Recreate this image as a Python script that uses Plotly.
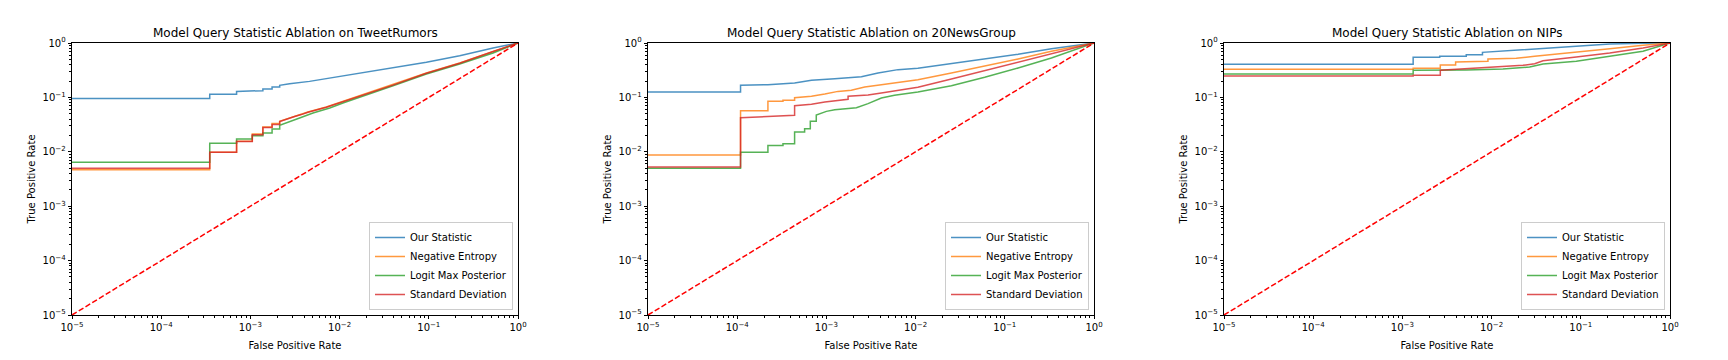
import plotly.graph_objects as go

# ---- data ----
panel_titles = [
    "Model Query Statistic Ablation on TweetRumors",
    "Model Query Statistic Ablation on 20NewsGroup",
    "Model Query Statistic Ablation on NIPs",
]
series_names = ["Our Statistic", "Negative Entropy", "Logit Max Posterior", "Standard Deviation"]
series_colors = ["#1f77b4", "#ff7f0e", "#2ca02c", "#d62728"]

tick_vals = [1e-5, 1e-4, 1e-3, 1e-2, 1e-1, 1e0]
tick_text = ["10<sup>−5</sup>", "10<sup>−4</sup>", "10<sup>−3</sup>",
             "10<sup>−2</sup>", "10<sup>−1</sup>", "10<sup>0</sup>"]

# TweetRumors
tr_ours_fpr = [1e-5, 3.5e-4, 3.5e-4, 7e-4, 7e-4, 1.0e-3, 1.0e-3, 1.38e-3, 1.38e-3, 1.75e-3, 1.75e-3,
               2.13e-3, 2.13e-3, 2.75e-3, 4.6e-3, 7.1e-3, 1.09e-2, 1.68e-2, 3.97e-2, 9.4e-2, 0.222, 0.525, 1.0]
tr_ours_tpr = [0.095, 0.095, 0.114, 0.114, 0.129, 0.129, 0.133, 0.133, 0.143, 0.143, 0.155,
               0.155, 0.167, 0.179, 0.197, 0.221, 0.251, 0.281, 0.347, 0.441, 0.585, 0.81, 1.0]
tr_ent_fpr = [1e-5, 3.5e-4, 3.5e-4, 7e-4, 7e-4, 1.05e-3, 1.05e-3, 1.38e-3, 1.38e-3, 1.75e-3, 1.75e-3,
              2.13e-3, 2.13e-3, 2.53e-3, 3.13e-3, 3.72e-3, 4.42e-3, 7.1e-3, 1.09e-2, 1.68e-2,
              3.97e-2, 9.4e-2, 0.222, 0.525, 1.0]
tr_ent_tpr = [0.0047, 0.0047, 0.0098, 0.0098, 0.0156, 0.0156, 0.0212, 0.0212, 0.0285, 0.0285, 0.0330,
              0.0330, 0.0365, 0.0401, 0.0449, 0.0489, 0.054, 0.0667, 0.0847, 0.109,
              0.171, 0.281, 0.429, 0.703, 1.0]
tr_lmp_fpr = [1e-5, 3.5e-4, 3.5e-4, 7e-4, 7e-4, 1.05e-3, 1.05e-3, 1.38e-3, 1.38e-3, 1.75e-3, 1.75e-3,
              2.13e-3, 2.13e-3, 2.75e-3, 3.56e-3, 5.03e-3, 7.75e-3, 1.09e-2, 1.68e-2, 3.97e-2,
              9.4e-2, 0.222, 0.525, 1.0]
tr_lmp_tpr = [0.0064, 0.0064, 0.0143, 0.0143, 0.0172, 0.0172, 0.0198, 0.0198, 0.0222, 0.0222, 0.0262,
              0.0262, 0.0307, 0.0363, 0.0418, 0.0516, 0.0638, 0.0789, 0.1017, 0.164,
              0.269, 0.411, 0.655, 1.0]
tr_std_fpr = tr_ent_fpr
tr_std_tpr = [0.00497, 0.00497, 0.0098, 0.0098, 0.0155, 0.0155, 0.0205, 0.0205, 0.0280, 0.0280, 0.0318,
              0.0318, 0.036, 0.040, 0.0445, 0.0483, 0.0535, 0.066, 0.083, 0.107,
              0.168, 0.277, 0.425, 0.70, 1.0]

# 20NewsGroup
ng_ours_fpr = [1e-5, 1.09e-4, 1.09e-4, 2.21e-4, 4.4e-4, 5.7e-4, 6.8e-4, 1.24e-3, 2.47e-3, 3.79e-3,
               6.35e-3, 1.06e-2, 2.52e-2, 5.95e-2, 0.141, 0.333, 1.0]
ng_ours_tpr = [0.126, 0.126, 0.167, 0.171, 0.184, 0.197, 0.206, 0.221, 0.240, 0.281,
               0.324, 0.342, 0.417, 0.508, 0.619, 0.787, 1.0]
ng_ent_fpr = [1e-5, 1.09e-4, 1.09e-4, 2.21e-4, 2.21e-4, 3.26e-4, 3.26e-4, 4.4e-4, 4.4e-4, 6.8e-4,
              9.6e-4, 1.35e-3, 1.9e-3, 2.69e-3, 4.13e-3, 6.9e-3, 1.06e-2, 2.52e-2, 5.95e-2,
              0.141, 0.333, 1.0]
ng_ent_tpr = [0.0087, 0.0087, 0.057, 0.057, 0.0847, 0.0847, 0.0883, 0.0883, 0.099, 0.1047,
              0.1155, 0.129, 0.135, 0.155, 0.171, 0.192, 0.212, 0.281, 0.373,
              0.508, 0.703, 1.0]
ng_lmp_fpr = [1e-5, 1.09e-4, 1.09e-4, 2.21e-4, 2.21e-4, 3.26e-4, 3.26e-4, 4.4e-4, 4.4e-4, 5.7e-4,
              5.7e-4, 6.6e-4, 6.6e-4, 7.7e-4, 7.7e-4, 1.0e-3, 1.24e-3, 2.17e-3, 2.93e-3, 4.13e-3,
              5.8e-3, 1.06e-2, 2.52e-2, 5.95e-2, 0.141, 0.333, 1.0]
ng_lmp_tpr = [0.00497, 0.00497, 0.0098, 0.0098, 0.013, 0.013, 0.0141, 0.0141, 0.0231, 0.0231,
              0.0266, 0.0266, 0.0363, 0.0363, 0.0475, 0.0554, 0.0595, 0.0648, 0.0767, 0.0975,
              0.109, 0.126, 0.164, 0.234, 0.347, 0.53, 1.0]
ng_std_fpr = [1e-5, 1.09e-4, 1.09e-4, 2.21e-4, 3.26e-4, 4.4e-4, 4.4e-4, 6.8e-4, 9.6e-4, 1.3e-3,
              1.75e-3, 1.75e-3, 2.93e-3, 4.13e-3, 6.9e-3, 1.06e-2, 2.52e-2, 5.95e-2, 0.141, 0.333, 1.0]
ng_std_tpr = [0.00526, 0.00526, 0.0424, 0.0449, 0.0468, 0.0468, 0.0705, 0.0746, 0.0823, 0.087,
              0.092, 0.1047, 0.111, 0.12, 0.139, 0.153, 0.218, 0.31, 0.448, 0.628, 1.0]

# NIPs
ni_ours_fpr = [1e-5, 1.32e-3, 1.32e-3, 2.62e-3, 2.62e-3, 5.2e-3, 5.2e-3, 7.9e-3, 7.9e-3, 1.23e-2,
               1.46e-2, 2.45e-2, 5.8e-2, 8.9e-2, 0.137, 0.211, 0.498, 1.0]
ni_ours_tpr = [0.405, 0.405, 0.545, 0.545, 0.569, 0.569, 0.61, 0.61, 0.673, 0.703,
               0.733, 0.765, 0.832, 0.868, 0.919, 0.958, 0.986, 1.0]
ni_ent_fpr = [1e-5, 1.32e-3, 1.32e-3, 2.66e-3, 2.66e-3, 3.95e-3, 3.95e-3, 6.7e-3, 9.1e-3, 9.1e-3,
              1.89e-2, 3.04e-2, 5.8e-2, 8.9e-2, 0.211, 0.498, 1.0]
ni_ent_tpr = [0.328, 0.328, 0.342, 0.342, 0.394, 0.394, 0.448, 0.46, 0.46, 0.508,
              0.523, 0.569, 0.628, 0.683, 0.787, 0.906, 1.0]
ni_lmp_fpr = [1e-5, 1.32e-3, 1.32e-3, 5.2e-3, 1.34e-2, 2.67e-2, 3.77e-2, 8.9e-2, 0.211, 0.498, 1.0]
ni_lmp_tpr = [0.269, 0.269, 0.315, 0.319, 0.333, 0.362, 0.411, 0.46, 0.569, 0.703, 1.0]
ni_std_fpr = [1e-5, 1.32e-3, 1.32e-3, 2.66e-3, 2.66e-3, 1.04e-2, 2.25e-2, 3.04e-2, 3.77e-2, 8.9e-2,
              0.211, 0.498, 1.0]
ni_std_tpr = [0.247, 0.247, 0.255, 0.255, 0.315, 0.357, 0.389, 0.417, 0.473, 0.553,
              0.655, 0.809, 1.0]

chance_line = [1e-5, 1.0]

panels = [
    [(tr_ours_fpr, tr_ours_tpr), (tr_ent_fpr, tr_ent_tpr), (tr_lmp_fpr, tr_lmp_tpr), (tr_std_fpr, tr_std_tpr)],
    [(ng_ours_fpr, ng_ours_tpr), (ng_ent_fpr, ng_ent_tpr), (ng_lmp_fpr, ng_lmp_tpr), (ng_std_fpr, ng_std_tpr)],
    [(ni_ours_fpr, ni_ours_tpr), (ni_ent_fpr, ni_ent_tpr), (ni_lmp_fpr, ni_lmp_tpr), (ni_std_fpr, ni_std_tpr)],
]

# ---- layout geometry (pixels of the 1728x360 page) ----
W, H = 1728, 360
x_left = [72, 648, 1224]
plot_w = 446
y_top, y_bot = 43, 315
font = "DejaVu Sans"

minor_vals = [m * 10 ** e for e in range(-5, 0) for m in range(2, 10)]

fig = go.Figure()

for p, curves in enumerate(panels):
    sfx = "" if p == 0 else str(p + 1)
    for (fpr, tpr), name, color in zip(curves, series_names, series_colors):
        fig.add_trace(go.Scatter(
            x=fpr, y=tpr, mode="lines", name=name,
            line=dict(color=color, width=1.5), opacity=0.8,
            xaxis="x" + sfx, yaxis="y" + sfx, legend="legend" + sfx,
        ))
    fig.add_trace(go.Scatter(
        x=chance_line, y=chance_line, mode="lines", showlegend=False,
        line=dict(color="#ff0000", width=1.5, dash="5.5px,2.4px"),
        xaxis="x" + sfx, yaxis="y" + sfx,
    ))

    axis_common = dict(
        type="log", range=[-5, 0], tickmode="array", tickvals=tick_vals, ticktext=tick_text,
        ticks="outside", ticklen=3.5, tickwidth=0.8, tickcolor="black",
        showline=True, linecolor="black", linewidth=0.8, mirror=True,
        showgrid=False, zeroline=False, automargin=False,
        tickfont=dict(family=font, size=10, color="black"),
        minor=dict(tickmode="array", tickvals=minor_vals, ticks="outside",
                   ticklen=2, tickwidth=0.6, tickcolor="black", showgrid=False),
    )
    x0 = x_left[p] / W
    x1 = (x_left[p] + plot_w) / W
    fig.update_layout({
        "xaxis" + sfx: dict(axis_common, domain=[x0, x1], anchor="y" + sfx,
                            title=dict(text="False Positive Rate", standoff=9,
                                       font=dict(family=font, size=10, color="black"))),
        "yaxis" + sfx: dict(axis_common, domain=[(H - y_bot) / H, (H - y_top) / H], anchor="x" + sfx,
                            title=dict(text="True Positive Rate", standoff=5,
                                       font=dict(family=font, size=10, color="black"))),
        "legend" + sfx: dict(
            x=(x_left[p] + plot_w - 5) / W, y=(H - y_bot + 5) / H, xanchor="right", yanchor="bottom",
            bgcolor="rgba(255,255,255,0.8)", bordercolor="#cccccc", borderwidth=1,
            font=dict(family=font, size=10, color="black"), itemwidth=30,
            tracegroupgap=0,
        ),
    })
    fig.add_annotation(
        text=panel_titles[p], xref="paper", yref="paper",
        x=(x_left[p] + plot_w / 2) / W, y=(H - 33) / H, xanchor="center", yanchor="middle",
        showarrow=False, font=dict(family=font, size=12, color="black"),
    )

fig.update_layout(
    width=W, height=H, margin=dict(l=0, r=0, t=0, b=0),
    paper_bgcolor="white", plot_bgcolor="white",
    font=dict(family=font, size=10, color="black"),
)

# drop the browser's default body margin so the figure sits at the page origin
fig.write_html("out.html", config={"displayModeBar": False},
               post_script="document.body.style.margin='0';")
